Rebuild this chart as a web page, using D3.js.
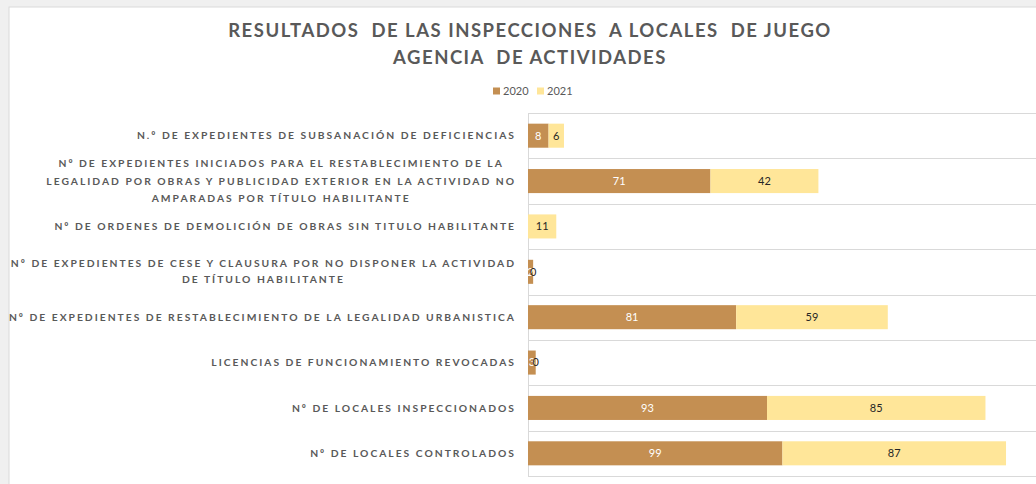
<!DOCTYPE html>
<html>
<head>
<meta charset="utf-8">
<script src="https://cdn.jsdelivr.net/npm/d3@7"></script>
<style>
  body { margin: 0; background: #f0f0f0; }
  svg { display: block; font-family: Lato, "Open Sans", sans-serif; }
  text { white-space: pre; }
</style>
</head>
<body>
<div id="chart"></div>
<script>
// chart data
const titleLines = ["RESULTADOS  DE LAS INSPECCIONES  A LOCALES  DE JUEGO", "AGENCIA  DE ACTIVIDADES"];
const series = ["2020", "2021"];
const colors = ["#c48f52", "#ffe699"];
const categories = [
    ["N.º DE EXPEDIENTES DE SUBSANACIÓN DE DEFICIENCIAS"],
    ["Nº DE EXPEDIENTES INICIADOS PARA EL RESTABLECIMIENTO DE LA",
     "LEGALIDAD POR OBRAS Y PUBLICIDAD EXTERIOR EN LA ACTIVIDAD NO",
     "AMPARADAS POR TÍTULO HABILITANTE"],
    ["Nº DE ORDENES DE DEMOLICIÓN DE OBRAS SIN TITULO HABILITANTE"],
    ["Nº DE EXPEDIENTES DE CESE Y CLAUSURA POR NO DISPONER LA ACTIVIDAD",
     "DE TÍTULO HABILITANTE"],
    ["Nº DE EXPEDIENTES DE RESTABLECIMIENTO DE LA LEGALIDAD URBANISTICA"],
    ["LICENCIAS DE FUNCIONAMIENTO REVOCADAS"],
    ["Nº DE LOCALES INSPECCIONADOS"],
    ["Nº DE LOCALES CONTROLADOS"]
];
const values2020 = [8, 71, 0, 2, 81, 3, 93, 99];
const values2021 = [6, 42, 11, 0, 59, 0, 85, 87];

const width = 1036, height = 484;
const margin = {top: 113, left: 528, bottom: 8};

const svg = d3.select("#chart").append("svg")
    .attr("width", width)
    .attr("height", height);

// white panel with a thin frame
svg.append("rect")
    .attr("x", 9).attr("y", 7)
    .attr("width", width).attr("height", height)
    .attr("fill", "#fff")
    .attr("stroke", "#d9d9d9");

const rows = categories.map((c, i) => ({i, label: c, v: [values2020[i], values2021[i]]}));

const y = d3.scaleBand()
    .domain(d3.range(categories.length))
    .range([margin.top, height - margin.bottom])
    .paddingInner(0.47).paddingOuter(0.235);

const x = d3.scaleLinear()
    .domain([0, 200])
    .range([margin.left, margin.left + 514]);

// horizontal grid at category boundaries
const step = y.step();
const grid = d3.range(categories.length + 1).map(k => margin.top + k * step);
svg.append("g").selectAll("line")
    .data(grid)
    .join("line")
    .attr("x1", margin.left).attr("x2", width)
    .attr("y1", d => Math.round(d) + 0.5).attr("y2", d => Math.round(d) + 0.5)
    .attr("stroke", "#d9d9d9");

svg.append("line")
    .attr("x1", margin.left + 0.5).attr("x2", margin.left + 0.5)
    .attr("y1", margin.top).attr("y2", grid[grid.length - 1])
    .attr("stroke", "#d9d9d9");

// stacked bars
const stack = d3.stack().keys([0, 1]).value((d, k) => d.v[k]);
const layers = stack(rows);

const bars = svg.append("g").selectAll("g")
    .data(layers)
    .join("g")
    .attr("fill", (d, k) => colors[k]);

bars.selectAll("rect")
    .data(d => d)
    .join("rect")
    .attr("x", d => x(d[0]))
    .attr("y", d => y(d.data.i))
    .attr("width", d => x(d[1]) - x(d[0]))
    .attr("height", y.bandwidth());

// value labels
bars.selectAll("text")
    .data(d => d.map(s => ({s, k: d.key})))
    .join("text")
    .attr("x", d => (x(d.s[0]) + x(d.s[1])) / 2)
    .attr("y", d => y(d.s.data.i) + y.bandwidth() / 2)
    .attr("dy", "0.35em")
    .attr("text-anchor", "middle")
    .attr("font-size", 11)
    .attr("fill", d => d.k === 0 ? "#ffffff" : "#262626")
    .text(d => d.s.data.v[d.k]);

// category labels: wrapped block right aligned, lines centred within it
const labelRight = 516;
const labels = svg.append("g")
    .attr("fill", "#595959")
    .attr("font-size", 10.3)
    .attr("font-weight", "bold")
    .attr("letter-spacing", "2px");

rows.forEach(r => {
    const g = labels.append("g");
    const lh = r.label.length === 3 ? 17.5 : 16;
    const y0 = y(r.i) + y.bandwidth() / 2 - (r.label.length - 1) * lh / 2;
    const ts = g.selectAll("text")
        .data(r.label)
        .join("text")
        .attr("y", (d, j) => y0 + j * lh)
        .attr("dy", "0.35em")
        .attr("text-anchor", "middle")
        .text(d => d);
    const w = d3.max(ts.nodes(), n => n.getComputedTextLength());
    ts.attr("x", labelRight - w / 2);
});

// title
svg.append("g")
    .selectAll("text")
    .data(titleLines)
    .join("text")
    .attr("x", 530)
    .attr("y", (d, i) => 31 + i * 27)
    .attr("dy", "0.35em")
    .attr("text-anchor", "middle")
    .attr("font-size", 18.5)
    .attr("font-weight", "bold")
    .attr("letter-spacing", "1.5px")
    .attr("fill", "#595959")
    .text(d => d);

// legend
const legend = svg.append("g")
    .attr("transform", "translate(493,91)")
    .selectAll("g")
    .data(series)
    .join("g")
    .attr("transform", (d, i) => `translate(${i * 44},0)`);

legend.append("rect")
    .attr("y", -3.5).attr("width", 7).attr("height", 7)
    .attr("fill", (d, i) => colors[i]);

legend.append("text")
    .attr("x", 10).attr("dy", "0.35em")
    .attr("font-size", 11)
    .attr("fill", "#595959")
    .text(d => d);
</script>
</body>
</html>
